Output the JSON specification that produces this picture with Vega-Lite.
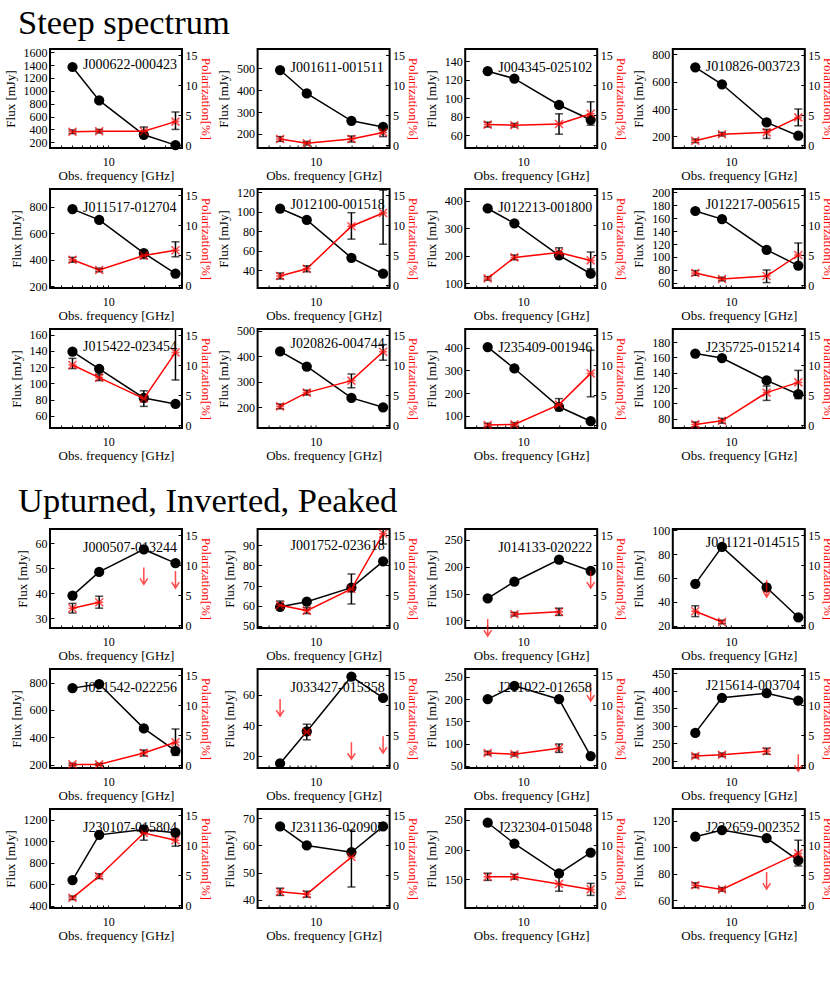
{
"$schema":"https://vega.github.io/schema/vega-lite/v6.json",
"background":"white",
"padding":{"left":3,"top":5,"right":5,"bottom":5},
"datasets":{"d":[
{"s":"J000622-000423","f":5,"flux":1370,"pol":2.2,"lo":1.9,"hi":2.5},
{"s":"J000622-000423","f":8.4,"flux":850,"pol":2.3,"lo":2.0,"hi":2.6},
{"s":"J000622-000423","f":20,"flux":315,"pol":2.3,"lo":1.6,"hi":3.0},
{"s":"J000622-000423","f":37,"flux":155,"pol":3.9,"lo":2.6,"hi":5.5},
{"s":"J001611-001511","f":5,"flux":492,"pol":1.0,"lo":0.6,"hi":1.4},
{"s":"J001611-001511","f":8.4,"flux":385,"pol":0.3,"lo":0.0,"hi":0.6},
{"s":"J001611-001511","f":20,"flux":260,"pol":1.0,"lo":0.5,"hi":1.5},
{"s":"J001611-001511","f":37,"flux":232,"pol":2.1,"lo":1.4,"hi":2.8},
{"s":"J004345-025102","f":5,"flux":129,"pol":3.4,"lo":3.0,"hi":3.8},
{"s":"J004345-025102","f":8.4,"flux":121,"pol":3.3,"lo":3.0,"hi":3.6},
{"s":"J004345-025102","f":20,"flux":92.5,"pol":3.5,"lo":1.8,"hi":5.2},
{"s":"J004345-025102","f":37,"flux":76.5,"pol":5.2,"lo":3.3,"hi":7.2},
{"s":"J010826-003723","f":5,"flux":705,"pol":0.7,"lo":0.4,"hi":1.0},
{"s":"J010826-003723","f":8.4,"flux":581,"pol":1.8,"lo":1.5,"hi":2.1},
{"s":"J010826-003723","f":20,"flux":302,"pol":2.1,"lo":1.1,"hi":2.6},
{"s":"J010826-003723","f":37,"flux":205,"pol":4.6,"lo":3.2,"hi":6.0},
{"s":"J011517-012704","f":5,"flux":782,"pol":4.2,"lo":3.8,"hi":4.6},
{"s":"J011517-012704","f":8.4,"flux":701,"pol":2.5,"lo":2.2,"hi":2.8},
{"s":"J011517-012704","f":20,"flux":451,"pol":4.9,"lo":4.4,"hi":5.4},
{"s":"J011517-012704","f":37,"flux":296,"pol":5.8,"lo":4.7,"hi":7.2},
{"s":"J012100-001518","f":5,"flux":103.4,"pol":1.5,"lo":1.0,"hi":2.0},
{"s":"J012100-001518","f":8.4,"flux":91.7,"pol":2.7,"lo":2.2,"hi":3.2},
{"s":"J012100-001518","f":20,"flux":52.9,"pol":9.8,"lo":7.65,"hi":12.05},
{"s":"J012100-001518","f":37,"flux":36.6,"pol":12.0,"lo":6.8,"hi":15.8},
{"s":"J012213-001800","f":5,"flux":372,"pol":1.1,"lo":0.8,"hi":1.4},
{"s":"J012213-001800","f":8.4,"flux":318,"pol":4.6,"lo":4.2,"hi":5.0},
{"s":"J012213-001800","f":20,"flux":201,"pol":5.4,"lo":4.4,"hi":6.2},
{"s":"J012213-001800","f":37,"flux":134,"pol":4.1,"lo":2.7,"hi":5.5},
{"s":"J012217-005615","f":5,"flux":171,"pol":2.0,"lo":1.6,"hi":2.4},
{"s":"J012217-005615","f":8.4,"flux":158.5,"pol":1.0,"lo":0.7,"hi":1.3},
{"s":"J012217-005615","f":20,"flux":111,"pol":1.5,"lo":0.4,"hi":2.5},
{"s":"J012217-005615","f":37,"flux":86.7,"pol":5.0,"lo":2.8,"hi":7.0},
{"s":"J015422-023454","f":5,"flux":139,"pol":10.0,"lo":9.4,"hi":11.1},
{"s":"J015422-023454","f":8.4,"flux":118,"pol":7.9,"lo":7.4,"hi":8.4},
{"s":"J015422-023454","f":20,"flux":82,"pol":4.4,"lo":3.1,"hi":5.7},
{"s":"J015422-023454","f":37,"flux":74.7,"pol":12.1,"lo":7.5,"hi":16.0},
{"s":"J020826-004744","f":5,"flux":419,"pol":3.1,"lo":2.7,"hi":3.5},
{"s":"J020826-004744","f":8.4,"flux":360,"pol":5.4,"lo":5.0,"hi":5.8},
{"s":"J020826-004744","f":20,"flux":237,"pol":7.4,"lo":6.2,"hi":8.5},
{"s":"J020826-004744","f":37,"flux":200,"pol":12.2,"lo":10.8,"hi":13.4},
{"s":"J235409-001946","f":5,"flux":404,"pol":0.0,"lo":-0.3,"hi":0.3},
{"s":"J235409-001946","f":8.4,"flux":309,"pol":0.1,"lo":-0.2,"hi":0.4},
{"s":"J235409-001946","f":20,"flux":139,"pol":3.4,"lo":2.4,"hi":4.4},
{"s":"J235409-001946","f":37,"flux":75,"pol":8.6,"lo":4.7,"hi":12.45},
{"s":"J235725-015214","f":5,"flux":165,"pol":0.1,"lo":-0.3,"hi":0.5},
{"s":"J235725-015214","f":8.4,"flux":159.2,"pol":0.7,"lo":0.3,"hi":1.1},
{"s":"J235725-015214","f":20,"flux":130,"pol":5.4,"lo":4.1,"hi":6.5},
{"s":"J235725-015214","f":37,"flux":112,"pol":7.1,"lo":4.4,"hi":9.1},
{"s":"J000507-013244","f":5,"flux":39,"pol":2.8,"lo":2.0,"hi":3.6},
{"s":"J000507-013244","f":8.4,"flux":48.5,"pol":3.8,"lo":2.8,"hi":4.8},
{"s":"J000507-013244","f":20,"flux":57.5,"ul":9.6},
{"s":"J000507-013244","f":37,"flux":52,"ul":9.0},
{"s":"J001752-023618","f":5,"flux":59.5,"pol":3.3,"lo":2.6,"hi":4.0},
{"s":"J001752-023618","f":8.4,"flux":62,"pol":2.4,"lo":1.9,"hi":2.9},
{"s":"J001752-023618","f":20,"flux":69,"pol":6.0,"lo":3.5,"hi":8.5},
{"s":"J001752-023618","f":37,"flux":82,"pol":15.2,"lo":13.5,"hi":16.0},
{"s":"J014133-020222","f":5,"flux":141,"ul":1.0},
{"s":"J014133-020222","f":8.4,"flux":172,"pol":1.8,"lo":1.5,"hi":2.1},
{"s":"J014133-020222","f":20,"flux":213,"pol":2.2,"lo":1.6,"hi":2.8},
{"s":"J014133-020222","f":37,"flux":192,"ul":9.0},
{"s":"J021121-014515","f":5,"flux":55,"pol":2.3,"lo":1.4,"hi":3.2},
{"s":"J021121-014515","f":8.4,"flux":86,"pol":0.5,"lo":0.2,"hi":0.8},
{"s":"J021121-014515","f":20,"flux":52,"ul":7.5},
{"s":"J021121-014515","f":37,"flux":27},
{"s":"J021542-022256","f":5,"flux":760,"pol":0.1,"lo":-0.1,"hi":0.3},
{"s":"J021542-022256","f":8.4,"flux":790,"pol":0.1,"lo":-0.1,"hi":0.3},
{"s":"J021542-022256","f":20,"flux":465,"pol":2.0,"lo":1.5,"hi":2.5},
{"s":"J021542-022256","f":37,"flux":300,"pol":3.8,"lo":1.6,"hi":6.0},
{"s":"J033427-015358","f":5,"flux":15,"ul":11.0},
{"s":"J033427-015358","f":8.4,"flux":36,"pol":5.5,"lo":4.2,"hi":6.8},
{"s":"J033427-015358","f":20,"flux":72,"ul":3.8},
{"s":"J033427-015358","f":37,"flux":58,"ul":4.8},
{"s":"J211022-012658","f":5,"flux":200,"pol":2.0,"lo":1.7,"hi":2.3},
{"s":"J211022-012658","f":8.4,"flux":230,"pol":1.8,"lo":1.5,"hi":2.1},
{"s":"J211022-012658","f":20,"flux":200,"pol":2.8,"lo":2.1,"hi":3.5},
{"s":"J211022-012658","f":37,"flux":72,"ul":13.5},
{"s":"J215614-003704","f":5,"flux":280,"pol":1.5,"lo":1.2,"hi":1.8},
{"s":"J215614-003704","f":8.4,"flux":380,"pol":1.7,"lo":1.4,"hi":2.0},
{"s":"J215614-003704","f":20,"flux":393,"pol":2.3,"lo":1.8,"hi":2.8},
{"s":"J215614-003704","f":37,"flux":372,"ul":1.8},
{"s":"J230107-015804","f":5,"flux":640,"pol":1.2,"lo":0.9,"hi":1.5},
{"s":"J230107-015804","f":8.4,"flux":1060,"pol":4.8,"lo":4.4,"hi":5.2},
{"s":"J230107-015804","f":20,"flux":1110,"pol":12.0,"lo":10.8,"hi":13.2},
{"s":"J230107-015804","f":37,"flux":1080,"pol":10.8,"lo":9.8,"hi":11.8},
{"s":"J231136-020907","f":5,"flux":67,"pol":2.2,"lo":1.6,"hi":2.8},
{"s":"J231136-020907","f":8.4,"flux":60,"pol":1.8,"lo":1.3,"hi":2.3},
{"s":"J231136-020907","f":20,"flux":57.5,"pol":8.0,"lo":3.0,"hi":12.5},
{"s":"J231136-020907","f":37,"flux":67},
{"s":"J232304-015048","f":5,"flux":245,"pol":4.7,"lo":4.1,"hi":5.3},
{"s":"J232304-015048","f":8.4,"flux":210,"pol":4.7,"lo":4.3,"hi":5.1},
{"s":"J232304-015048","f":20,"flux":160,"pol":3.5,"lo":2.3,"hi":4.7},
{"s":"J232304-015048","f":37,"flux":195,"pol":2.6,"lo":1.6,"hi":3.6},
{"s":"J232659-002352","f":5,"flux":108,"pol":3.3,"lo":2.9,"hi":3.7},
{"s":"J232659-002352","f":8.4,"flux":113,"pol":2.6,"lo":2.3,"hi":2.9},
{"s":"J232659-002352","f":20,"flux":107,"ul":5.5},
{"s":"J232659-002352","f":37,"flux":90,"pol":8.6,"lo":6.5,"hi":10.8}
]},
"data":{"name":"d"},
"spacing":20,
"vconcat":[
{"title":{"text":"Steep spectrum","fontSize":34.5,"frame":"bounds","anchor":"start","dx":15,"offset":-23,"baseline":"alphabetic"},
"columns":4,"spacing":{"row":41,"column":75.6},"bounds":"flush",
"concat":[
{"title":"J000622-000423","width":132,"height":99,"transform":[{"filter":"datum.s=='J000622-000423'"}],
"encoding":{"x":{"field":"f","type":"quantitative","scale":{"type":"log","domain":[3.23,42],"nice":false},"axis":{"values":[4,5,6,7,8,9,10,20,30,40],"labelExpr":"datum.value==10?'10':''","title":"Obs. frequency [GHz]"}}},
"layer":[
{"encoding":{"y":{"field":"flux","type":"quantitative","scale":{"domain":[110,1650],"nice":false,"zero":false},"axis":{"values":[200,400,600,800,1000,1200,1400,1600],"title":"Flux [mJy]","orient":"left"}}},"layer":[{"mark":{"type":"line","color":"black","strokeWidth":1.5}},{"mark":{"type":"circle","color":"black","size":105,"opacity":1}}]},
{"encoding":{"y":{"field":"pol","type":"quantitative","scale":{"domain":[-0.5,16],"nice":false,"zero":false},"axis":{"values":[0,5,10,15],"title":"Polarization[%]","orient":"right"}}},"layer":[
{"transform":[{"filter":"isValid(datum.pol)"}],"mark":{"type":"line","color":"red","strokeWidth":1.5}},
{"transform":[{"filter":"isValid(datum.lo)"}],"mark":{"type":"errorbar","ticks":{"size":8},"color":"black","thickness":1.5},"encoding":{"y":{"field":"lo","type":"quantitative","title":"Polarization[%]","scale":{"domain":[-0.5,16],"nice":false,"zero":false}},"y2":{"field":"hi"}}},
{"transform":[{"filter":"isValid(datum.pol)"}],"mark":{"type":"point","shape":"M-1,-1L1,1M-1,1L1,-1M-1,0L1,0","color":"red","size":64,"strokeWidth":1.5}},
{"transform":[{"filter":"isValid(datum.ul)"}],"mark":{"type":"point","shape":"M0,0L0,2M-0.45,1.3L0,2L0.45,1.3","color":"red","size":290,"strokeWidth":1.5},"encoding":{"y":{"field":"ul","type":"quantitative","title":"Polarization[%]","scale":{"domain":[-0.5,16],"nice":false,"zero":false}}}}]}],
"resolve":{"scale":{"y":"independent"}}},
{"title":"J001611-001511","width":132,"height":99,"transform":[{"filter":"datum.s=='J001611-001511'"}],
"encoding":{"x":{"field":"f","type":"quantitative","scale":{"type":"log","domain":[3.23,42],"nice":false},"axis":{"values":[4,5,6,7,8,9,10,20,30,40],"labelExpr":"datum.value==10?'10':''","title":"Obs. frequency [GHz]"}}},
"layer":[
{"encoding":{"y":{"field":"flux","type":"quantitative","scale":{"domain":[136,588],"nice":false,"zero":false},"axis":{"values":[200,300,400,500],"title":"Flux [mJy]","orient":"left"}}},"layer":[{"mark":{"type":"line","color":"black","strokeWidth":1.5}},{"mark":{"type":"circle","color":"black","size":105,"opacity":1}}]},
{"encoding":{"y":{"field":"pol","type":"quantitative","scale":{"domain":[-0.5,16],"nice":false,"zero":false},"axis":{"values":[0,5,10,15],"title":"Polarization[%]","orient":"right"}}},"layer":[
{"transform":[{"filter":"isValid(datum.pol)"}],"mark":{"type":"line","color":"red","strokeWidth":1.5}},
{"transform":[{"filter":"isValid(datum.lo)"}],"mark":{"type":"errorbar","ticks":{"size":8},"color":"black","thickness":1.5},"encoding":{"y":{"field":"lo","type":"quantitative","title":"Polarization[%]","scale":{"domain":[-0.5,16],"nice":false,"zero":false}},"y2":{"field":"hi"}}},
{"transform":[{"filter":"isValid(datum.pol)"}],"mark":{"type":"point","shape":"M-1,-1L1,1M-1,1L1,-1M-1,0L1,0","color":"red","size":64,"strokeWidth":1.5}},
{"transform":[{"filter":"isValid(datum.ul)"}],"mark":{"type":"point","shape":"M0,0L0,2M-0.45,1.3L0,2L0.45,1.3","color":"red","size":290,"strokeWidth":1.5},"encoding":{"y":{"field":"ul","type":"quantitative","title":"Polarization[%]","scale":{"domain":[-0.5,16],"nice":false,"zero":false}}}}]}],
"resolve":{"scale":{"y":"independent"}}},
{"title":"J004345-025102","width":132,"height":99,"transform":[{"filter":"datum.s=='J004345-025102'"}],
"encoding":{"x":{"field":"f","type":"quantitative","scale":{"type":"log","domain":[3.23,42],"nice":false},"axis":{"values":[4,5,6,7,8,9,10,20,30,40],"labelExpr":"datum.value==10?'10':''","title":"Obs. frequency [GHz]"}}},
"layer":[
{"encoding":{"y":{"field":"flux","type":"quantitative","scale":{"domain":[46,153],"nice":false,"zero":false},"axis":{"values":[60,80,100,120,140],"title":"Flux [mJy]","orient":"left"}}},"layer":[{"mark":{"type":"line","color":"black","strokeWidth":1.5}},{"mark":{"type":"circle","color":"black","size":105,"opacity":1}}]},
{"encoding":{"y":{"field":"pol","type":"quantitative","scale":{"domain":[-0.5,16],"nice":false,"zero":false},"axis":{"values":[0,5,10,15],"title":"Polarization[%]","orient":"right"}}},"layer":[
{"transform":[{"filter":"isValid(datum.pol)"}],"mark":{"type":"line","color":"red","strokeWidth":1.5}},
{"transform":[{"filter":"isValid(datum.lo)"}],"mark":{"type":"errorbar","ticks":{"size":8},"color":"black","thickness":1.5},"encoding":{"y":{"field":"lo","type":"quantitative","title":"Polarization[%]","scale":{"domain":[-0.5,16],"nice":false,"zero":false}},"y2":{"field":"hi"}}},
{"transform":[{"filter":"isValid(datum.pol)"}],"mark":{"type":"point","shape":"M-1,-1L1,1M-1,1L1,-1M-1,0L1,0","color":"red","size":64,"strokeWidth":1.5}},
{"transform":[{"filter":"isValid(datum.ul)"}],"mark":{"type":"point","shape":"M0,0L0,2M-0.45,1.3L0,2L0.45,1.3","color":"red","size":290,"strokeWidth":1.5},"encoding":{"y":{"field":"ul","type":"quantitative","title":"Polarization[%]","scale":{"domain":[-0.5,16],"nice":false,"zero":false}}}}]}],
"resolve":{"scale":{"y":"independent"}}},
{"title":"J010826-003723","width":132,"height":99,"transform":[{"filter":"datum.s=='J010826-003723'"}],
"encoding":{"x":{"field":"f","type":"quantitative","scale":{"type":"log","domain":[3.23,42],"nice":false},"axis":{"values":[4,5,6,7,8,9,10,20,30,40],"labelExpr":"datum.value==10?'10':''","title":"Obs. frequency [GHz]"}}},
"layer":[
{"encoding":{"y":{"field":"flux","type":"quantitative","scale":{"domain":[115,839],"nice":false,"zero":false},"axis":{"values":[200,400,600,800],"title":"Flux [mJy]","orient":"left"}}},"layer":[{"mark":{"type":"line","color":"black","strokeWidth":1.5}},{"mark":{"type":"circle","color":"black","size":105,"opacity":1}}]},
{"encoding":{"y":{"field":"pol","type":"quantitative","scale":{"domain":[-0.5,16],"nice":false,"zero":false},"axis":{"values":[0,5,10,15],"title":"Polarization[%]","orient":"right"}}},"layer":[
{"transform":[{"filter":"isValid(datum.pol)"}],"mark":{"type":"line","color":"red","strokeWidth":1.5}},
{"transform":[{"filter":"isValid(datum.lo)"}],"mark":{"type":"errorbar","ticks":{"size":8},"color":"black","thickness":1.5},"encoding":{"y":{"field":"lo","type":"quantitative","title":"Polarization[%]","scale":{"domain":[-0.5,16],"nice":false,"zero":false}},"y2":{"field":"hi"}}},
{"transform":[{"filter":"isValid(datum.pol)"}],"mark":{"type":"point","shape":"M-1,-1L1,1M-1,1L1,-1M-1,0L1,0","color":"red","size":64,"strokeWidth":1.5}},
{"transform":[{"filter":"isValid(datum.ul)"}],"mark":{"type":"point","shape":"M0,0L0,2M-0.45,1.3L0,2L0.45,1.3","color":"red","size":290,"strokeWidth":1.5},"encoding":{"y":{"field":"ul","type":"quantitative","title":"Polarization[%]","scale":{"domain":[-0.5,16],"nice":false,"zero":false}}}}]}],
"resolve":{"scale":{"y":"independent"}}},
{"title":"J011517-012704","width":132,"height":99,"transform":[{"filter":"datum.s=='J011517-012704'"}],
"encoding":{"x":{"field":"f","type":"quantitative","scale":{"type":"log","domain":[3.23,42],"nice":false},"axis":{"values":[4,5,6,7,8,9,10,20,30,40],"labelExpr":"datum.value==10?'10':''","title":"Obs. frequency [GHz]"}}},
"layer":[
{"encoding":{"y":{"field":"flux","type":"quantitative","scale":{"domain":[187,934],"nice":false,"zero":false},"axis":{"values":[200,400,600,800],"title":"Flux [mJy]","orient":"left"}}},"layer":[{"mark":{"type":"line","color":"black","strokeWidth":1.5}},{"mark":{"type":"circle","color":"black","size":105,"opacity":1}}]},
{"encoding":{"y":{"field":"pol","type":"quantitative","scale":{"domain":[-0.5,16],"nice":false,"zero":false},"axis":{"values":[0,5,10,15],"title":"Polarization[%]","orient":"right"}}},"layer":[
{"transform":[{"filter":"isValid(datum.pol)"}],"mark":{"type":"line","color":"red","strokeWidth":1.5}},
{"transform":[{"filter":"isValid(datum.lo)"}],"mark":{"type":"errorbar","ticks":{"size":8},"color":"black","thickness":1.5},"encoding":{"y":{"field":"lo","type":"quantitative","title":"Polarization[%]","scale":{"domain":[-0.5,16],"nice":false,"zero":false}},"y2":{"field":"hi"}}},
{"transform":[{"filter":"isValid(datum.pol)"}],"mark":{"type":"point","shape":"M-1,-1L1,1M-1,1L1,-1M-1,0L1,0","color":"red","size":64,"strokeWidth":1.5}},
{"transform":[{"filter":"isValid(datum.ul)"}],"mark":{"type":"point","shape":"M0,0L0,2M-0.45,1.3L0,2L0.45,1.3","color":"red","size":290,"strokeWidth":1.5},"encoding":{"y":{"field":"ul","type":"quantitative","title":"Polarization[%]","scale":{"domain":[-0.5,16],"nice":false,"zero":false}}}}]}],
"resolve":{"scale":{"y":"independent"}}},
{"title":"J012100-001518","width":132,"height":99,"transform":[{"filter":"datum.s=='J012100-001518'"}],
"encoding":{"x":{"field":"f","type":"quantitative","scale":{"type":"log","domain":[3.23,42],"nice":false},"axis":{"values":[4,5,6,7,8,9,10,20,30,40],"labelExpr":"datum.value==10?'10':''","title":"Obs. frequency [GHz]"}}},
"layer":[
{"encoding":{"y":{"field":"flux","type":"quantitative","scale":{"domain":[22,123.4],"nice":false,"zero":false},"axis":{"values":[40,60,80,100,120],"title":"Flux [mJy]","orient":"left"}}},"layer":[{"mark":{"type":"line","color":"black","strokeWidth":1.5}},{"mark":{"type":"circle","color":"black","size":105,"opacity":1}}]},
{"encoding":{"y":{"field":"pol","type":"quantitative","scale":{"domain":[-0.5,16],"nice":false,"zero":false},"axis":{"values":[0,5,10,15],"title":"Polarization[%]","orient":"right"}}},"layer":[
{"transform":[{"filter":"isValid(datum.pol)"}],"mark":{"type":"line","color":"red","strokeWidth":1.5}},
{"transform":[{"filter":"isValid(datum.lo)"}],"mark":{"type":"errorbar","ticks":{"size":8},"color":"black","thickness":1.5},"encoding":{"y":{"field":"lo","type":"quantitative","title":"Polarization[%]","scale":{"domain":[-0.5,16],"nice":false,"zero":false}},"y2":{"field":"hi"}}},
{"transform":[{"filter":"isValid(datum.pol)"}],"mark":{"type":"point","shape":"M-1,-1L1,1M-1,1L1,-1M-1,0L1,0","color":"red","size":64,"strokeWidth":1.5}},
{"transform":[{"filter":"isValid(datum.ul)"}],"mark":{"type":"point","shape":"M0,0L0,2M-0.45,1.3L0,2L0.45,1.3","color":"red","size":290,"strokeWidth":1.5},"encoding":{"y":{"field":"ul","type":"quantitative","title":"Polarization[%]","scale":{"domain":[-0.5,16],"nice":false,"zero":false}}}}]}],
"resolve":{"scale":{"y":"independent"}}},
{"title":"J012213-001800","width":132,"height":99,"transform":[{"filter":"datum.s=='J012213-001800'"}],
"encoding":{"x":{"field":"f","type":"quantitative","scale":{"type":"log","domain":[3.23,42],"nice":false},"axis":{"values":[4,5,6,7,8,9,10,20,30,40],"labelExpr":"datum.value==10?'10':''","title":"Obs. frequency [GHz]"}}},
"layer":[
{"encoding":{"y":{"field":"flux","type":"quantitative","scale":{"domain":[82,443],"nice":false,"zero":false},"axis":{"values":[100,200,300,400],"title":"Flux [mJy]","orient":"left"}}},"layer":[{"mark":{"type":"line","color":"black","strokeWidth":1.5}},{"mark":{"type":"circle","color":"black","size":105,"opacity":1}}]},
{"encoding":{"y":{"field":"pol","type":"quantitative","scale":{"domain":[-0.5,16],"nice":false,"zero":false},"axis":{"values":[0,5,10,15],"title":"Polarization[%]","orient":"right"}}},"layer":[
{"transform":[{"filter":"isValid(datum.pol)"}],"mark":{"type":"line","color":"red","strokeWidth":1.5}},
{"transform":[{"filter":"isValid(datum.lo)"}],"mark":{"type":"errorbar","ticks":{"size":8},"color":"black","thickness":1.5},"encoding":{"y":{"field":"lo","type":"quantitative","title":"Polarization[%]","scale":{"domain":[-0.5,16],"nice":false,"zero":false}},"y2":{"field":"hi"}}},
{"transform":[{"filter":"isValid(datum.pol)"}],"mark":{"type":"point","shape":"M-1,-1L1,1M-1,1L1,-1M-1,0L1,0","color":"red","size":64,"strokeWidth":1.5}},
{"transform":[{"filter":"isValid(datum.ul)"}],"mark":{"type":"point","shape":"M0,0L0,2M-0.45,1.3L0,2L0.45,1.3","color":"red","size":290,"strokeWidth":1.5},"encoding":{"y":{"field":"ul","type":"quantitative","title":"Polarization[%]","scale":{"domain":[-0.5,16],"nice":false,"zero":false}}}}]}],
"resolve":{"scale":{"y":"independent"}}},
{"title":"J012217-005615","width":132,"height":99,"transform":[{"filter":"datum.s=='J012217-005615'"}],
"encoding":{"x":{"field":"f","type":"quantitative","scale":{"type":"log","domain":[3.23,42],"nice":false},"axis":{"values":[4,5,6,7,8,9,10,20,30,40],"labelExpr":"datum.value==10?'10':''","title":"Obs. frequency [GHz]"}}},
"layer":[
{"encoding":{"y":{"field":"flux","type":"quantitative","scale":{"domain":[52,205],"nice":false,"zero":false},"axis":{"values":[60,80,100,120,140,160,180,200],"title":"Flux [mJy]","orient":"left"}}},"layer":[{"mark":{"type":"line","color":"black","strokeWidth":1.5}},{"mark":{"type":"circle","color":"black","size":105,"opacity":1}}]},
{"encoding":{"y":{"field":"pol","type":"quantitative","scale":{"domain":[-0.5,16],"nice":false,"zero":false},"axis":{"values":[0,5,10,15],"title":"Polarization[%]","orient":"right"}}},"layer":[
{"transform":[{"filter":"isValid(datum.pol)"}],"mark":{"type":"line","color":"red","strokeWidth":1.5}},
{"transform":[{"filter":"isValid(datum.lo)"}],"mark":{"type":"errorbar","ticks":{"size":8},"color":"black","thickness":1.5},"encoding":{"y":{"field":"lo","type":"quantitative","title":"Polarization[%]","scale":{"domain":[-0.5,16],"nice":false,"zero":false}},"y2":{"field":"hi"}}},
{"transform":[{"filter":"isValid(datum.pol)"}],"mark":{"type":"point","shape":"M-1,-1L1,1M-1,1L1,-1M-1,0L1,0","color":"red","size":64,"strokeWidth":1.5}},
{"transform":[{"filter":"isValid(datum.ul)"}],"mark":{"type":"point","shape":"M0,0L0,2M-0.45,1.3L0,2L0.45,1.3","color":"red","size":290,"strokeWidth":1.5},"encoding":{"y":{"field":"ul","type":"quantitative","title":"Polarization[%]","scale":{"domain":[-0.5,16],"nice":false,"zero":false}}}}]}],
"resolve":{"scale":{"y":"independent"}}},
{"title":"J015422-023454","width":132,"height":99,"transform":[{"filter":"datum.s=='J015422-023454'"}],
"encoding":{"x":{"field":"f","type":"quantitative","scale":{"type":"log","domain":[3.23,42],"nice":false},"axis":{"values":[4,5,6,7,8,9,10,20,30,40],"labelExpr":"datum.value==10?'10':''","title":"Obs. frequency [GHz]"}}},
"layer":[
{"encoding":{"y":{"field":"flux","type":"quantitative","scale":{"domain":[45,167],"nice":false,"zero":false},"axis":{"values":[60,80,100,120,140,160],"title":"Flux [mJy]","orient":"left"}}},"layer":[{"mark":{"type":"line","color":"black","strokeWidth":1.5}},{"mark":{"type":"circle","color":"black","size":105,"opacity":1}}]},
{"encoding":{"y":{"field":"pol","type":"quantitative","scale":{"domain":[-0.5,16],"nice":false,"zero":false},"axis":{"values":[0,5,10,15],"title":"Polarization[%]","orient":"right"}}},"layer":[
{"transform":[{"filter":"isValid(datum.pol)"}],"mark":{"type":"line","color":"red","strokeWidth":1.5}},
{"transform":[{"filter":"isValid(datum.lo)"}],"mark":{"type":"errorbar","ticks":{"size":8},"color":"black","thickness":1.5},"encoding":{"y":{"field":"lo","type":"quantitative","title":"Polarization[%]","scale":{"domain":[-0.5,16],"nice":false,"zero":false}},"y2":{"field":"hi"}}},
{"transform":[{"filter":"isValid(datum.pol)"}],"mark":{"type":"point","shape":"M-1,-1L1,1M-1,1L1,-1M-1,0L1,0","color":"red","size":64,"strokeWidth":1.5}},
{"transform":[{"filter":"isValid(datum.ul)"}],"mark":{"type":"point","shape":"M0,0L0,2M-0.45,1.3L0,2L0.45,1.3","color":"red","size":290,"strokeWidth":1.5},"encoding":{"y":{"field":"ul","type":"quantitative","title":"Polarization[%]","scale":{"domain":[-0.5,16],"nice":false,"zero":false}}}}]}],
"resolve":{"scale":{"y":"independent"}}},
{"title":"J020826-004744","width":132,"height":99,"transform":[{"filter":"datum.s=='J020826-004744'"}],
"encoding":{"x":{"field":"f","type":"quantitative","scale":{"type":"log","domain":[3.23,42],"nice":false},"axis":{"values":[4,5,6,7,8,9,10,20,30,40],"labelExpr":"datum.value==10?'10':''","title":"Obs. frequency [GHz]"}}},
"layer":[
{"encoding":{"y":{"field":"flux","type":"quantitative","scale":{"domain":[119,507],"nice":false,"zero":false},"axis":{"values":[200,300,400,500],"title":"Flux [mJy]","orient":"left"}}},"layer":[{"mark":{"type":"line","color":"black","strokeWidth":1.5}},{"mark":{"type":"circle","color":"black","size":105,"opacity":1}}]},
{"encoding":{"y":{"field":"pol","type":"quantitative","scale":{"domain":[-0.5,16],"nice":false,"zero":false},"axis":{"values":[0,5,10,15],"title":"Polarization[%]","orient":"right"}}},"layer":[
{"transform":[{"filter":"isValid(datum.pol)"}],"mark":{"type":"line","color":"red","strokeWidth":1.5}},
{"transform":[{"filter":"isValid(datum.lo)"}],"mark":{"type":"errorbar","ticks":{"size":8},"color":"black","thickness":1.5},"encoding":{"y":{"field":"lo","type":"quantitative","title":"Polarization[%]","scale":{"domain":[-0.5,16],"nice":false,"zero":false}},"y2":{"field":"hi"}}},
{"transform":[{"filter":"isValid(datum.pol)"}],"mark":{"type":"point","shape":"M-1,-1L1,1M-1,1L1,-1M-1,0L1,0","color":"red","size":64,"strokeWidth":1.5}},
{"transform":[{"filter":"isValid(datum.ul)"}],"mark":{"type":"point","shape":"M0,0L0,2M-0.45,1.3L0,2L0.45,1.3","color":"red","size":290,"strokeWidth":1.5},"encoding":{"y":{"field":"ul","type":"quantitative","title":"Polarization[%]","scale":{"domain":[-0.5,16],"nice":false,"zero":false}}}}]}],
"resolve":{"scale":{"y":"independent"}}},
{"title":"J235409-001946","width":132,"height":99,"transform":[{"filter":"datum.s=='J235409-001946'"}],
"encoding":{"x":{"field":"f","type":"quantitative","scale":{"type":"log","domain":[3.23,42],"nice":false},"axis":{"values":[4,5,6,7,8,9,10,20,30,40],"labelExpr":"datum.value==10?'10':''","title":"Obs. frequency [GHz]"}}},
"layer":[
{"encoding":{"y":{"field":"flux","type":"quantitative","scale":{"domain":[45,484],"nice":false,"zero":false},"axis":{"values":[100,200,300,400],"title":"Flux [mJy]","orient":"left"}}},"layer":[{"mark":{"type":"line","color":"black","strokeWidth":1.5}},{"mark":{"type":"circle","color":"black","size":105,"opacity":1}}]},
{"encoding":{"y":{"field":"pol","type":"quantitative","scale":{"domain":[-0.5,16],"nice":false,"zero":false},"axis":{"values":[0,5,10,15],"title":"Polarization[%]","orient":"right"}}},"layer":[
{"transform":[{"filter":"isValid(datum.pol)"}],"mark":{"type":"line","color":"red","strokeWidth":1.5}},
{"transform":[{"filter":"isValid(datum.lo)"}],"mark":{"type":"errorbar","ticks":{"size":8},"color":"black","thickness":1.5},"encoding":{"y":{"field":"lo","type":"quantitative","title":"Polarization[%]","scale":{"domain":[-0.5,16],"nice":false,"zero":false}},"y2":{"field":"hi"}}},
{"transform":[{"filter":"isValid(datum.pol)"}],"mark":{"type":"point","shape":"M-1,-1L1,1M-1,1L1,-1M-1,0L1,0","color":"red","size":64,"strokeWidth":1.5}},
{"transform":[{"filter":"isValid(datum.ul)"}],"mark":{"type":"point","shape":"M0,0L0,2M-0.45,1.3L0,2L0.45,1.3","color":"red","size":290,"strokeWidth":1.5},"encoding":{"y":{"field":"ul","type":"quantitative","title":"Polarization[%]","scale":{"domain":[-0.5,16],"nice":false,"zero":false}}}}]}],
"resolve":{"scale":{"y":"independent"}}},
{"title":"J235725-015214","width":132,"height":99,"transform":[{"filter":"datum.s=='J235725-015214'"}],
"encoding":{"x":{"field":"f","type":"quantitative","scale":{"type":"log","domain":[3.23,42],"nice":false},"axis":{"values":[4,5,6,7,8,9,10,20,30,40],"labelExpr":"datum.value==10?'10':''","title":"Obs. frequency [GHz]"}}},
"layer":[
{"encoding":{"y":{"field":"flux","type":"quantitative","scale":{"domain":[68,197],"nice":false,"zero":false},"axis":{"values":[80,100,120,140,160,180],"title":"Flux [mJy]","orient":"left"}}},"layer":[{"mark":{"type":"line","color":"black","strokeWidth":1.5}},{"mark":{"type":"circle","color":"black","size":105,"opacity":1}}]},
{"encoding":{"y":{"field":"pol","type":"quantitative","scale":{"domain":[-0.5,16],"nice":false,"zero":false},"axis":{"values":[0,5,10,15],"title":"Polarization[%]","orient":"right"}}},"layer":[
{"transform":[{"filter":"isValid(datum.pol)"}],"mark":{"type":"line","color":"red","strokeWidth":1.5}},
{"transform":[{"filter":"isValid(datum.lo)"}],"mark":{"type":"errorbar","ticks":{"size":8},"color":"black","thickness":1.5},"encoding":{"y":{"field":"lo","type":"quantitative","title":"Polarization[%]","scale":{"domain":[-0.5,16],"nice":false,"zero":false}},"y2":{"field":"hi"}}},
{"transform":[{"filter":"isValid(datum.pol)"}],"mark":{"type":"point","shape":"M-1,-1L1,1M-1,1L1,-1M-1,0L1,0","color":"red","size":64,"strokeWidth":1.5}},
{"transform":[{"filter":"isValid(datum.ul)"}],"mark":{"type":"point","shape":"M0,0L0,2M-0.45,1.3L0,2L0.45,1.3","color":"red","size":290,"strokeWidth":1.5},"encoding":{"y":{"field":"ul","type":"quantitative","title":"Polarization[%]","scale":{"domain":[-0.5,16],"nice":false,"zero":false}}}}]}],
"resolve":{"scale":{"y":"independent"}}}
]},
{"title":{"text":"Upturned, Inverted, Peaked","fontSize":34.5,"frame":"bounds","anchor":"start","dx":15,"offset":-23,"baseline":"alphabetic"},
"columns":4,"spacing":{"row":41,"column":75.6},"bounds":"flush",
"concat":[
{"title":"J000507-013244","width":132,"height":99,"transform":[{"filter":"datum.s=='J000507-013244'"}],
"encoding":{"x":{"field":"f","type":"quantitative","scale":{"type":"log","domain":[3.23,42],"nice":false},"axis":{"values":[4,5,6,7,8,9,10,20,30,40],"labelExpr":"datum.value==10?'10':''","title":"Obs. frequency [GHz]"}}},
"layer":[
{"encoding":{"y":{"field":"flux","type":"quantitative","scale":{"domain":[26,65.7],"nice":false,"zero":false},"axis":{"values":[30,40,50,60],"title":"Flux [mJy]","orient":"left"}}},"layer":[{"mark":{"type":"line","color":"black","strokeWidth":1.5}},{"mark":{"type":"circle","color":"black","size":105,"opacity":1}}]},
{"encoding":{"y":{"field":"pol","type":"quantitative","scale":{"domain":[-0.5,16],"nice":false,"zero":false},"axis":{"values":[0,5,10,15],"title":"Polarization[%]","orient":"right"}}},"layer":[
{"transform":[{"filter":"isValid(datum.pol)"}],"mark":{"type":"line","color":"red","strokeWidth":1.5}},
{"transform":[{"filter":"isValid(datum.lo)"}],"mark":{"type":"errorbar","ticks":{"size":8},"color":"black","thickness":1.5},"encoding":{"y":{"field":"lo","type":"quantitative","title":"Polarization[%]","scale":{"domain":[-0.5,16],"nice":false,"zero":false}},"y2":{"field":"hi"}}},
{"transform":[{"filter":"isValid(datum.pol)"}],"mark":{"type":"point","shape":"M-1,-1L1,1M-1,1L1,-1M-1,0L1,0","color":"red","size":64,"strokeWidth":1.5}},
{"transform":[{"filter":"isValid(datum.ul)"}],"mark":{"type":"point","shape":"M0,0L0,2M-0.45,1.3L0,2L0.45,1.3","color":"red","size":290,"strokeWidth":1.5},"encoding":{"y":{"field":"ul","type":"quantitative","title":"Polarization[%]","scale":{"domain":[-0.5,16],"nice":false,"zero":false}}}}]}],
"resolve":{"scale":{"y":"independent"}}},
{"title":"J001752-023618","width":132,"height":99,"transform":[{"filter":"datum.s=='J001752-023618'"}],
"encoding":{"x":{"field":"f","type":"quantitative","scale":{"type":"log","domain":[3.23,42],"nice":false},"axis":{"values":[4,5,6,7,8,9,10,20,30,40],"labelExpr":"datum.value==10?'10':''","title":"Obs. frequency [GHz]"}}},
"layer":[
{"encoding":{"y":{"field":"flux","type":"quantitative","scale":{"domain":[49,98],"nice":false,"zero":false},"axis":{"values":[50,60,70,80,90],"title":"Flux [mJy]","orient":"left"}}},"layer":[{"mark":{"type":"line","color":"black","strokeWidth":1.5}},{"mark":{"type":"circle","color":"black","size":105,"opacity":1}}]},
{"encoding":{"y":{"field":"pol","type":"quantitative","scale":{"domain":[-0.5,16],"nice":false,"zero":false},"axis":{"values":[0,5,10,15],"title":"Polarization[%]","orient":"right"}}},"layer":[
{"transform":[{"filter":"isValid(datum.pol)"}],"mark":{"type":"line","color":"red","strokeWidth":1.5}},
{"transform":[{"filter":"isValid(datum.lo)"}],"mark":{"type":"errorbar","ticks":{"size":8},"color":"black","thickness":1.5},"encoding":{"y":{"field":"lo","type":"quantitative","title":"Polarization[%]","scale":{"domain":[-0.5,16],"nice":false,"zero":false}},"y2":{"field":"hi"}}},
{"transform":[{"filter":"isValid(datum.pol)"}],"mark":{"type":"point","shape":"M-1,-1L1,1M-1,1L1,-1M-1,0L1,0","color":"red","size":64,"strokeWidth":1.5}},
{"transform":[{"filter":"isValid(datum.ul)"}],"mark":{"type":"point","shape":"M0,0L0,2M-0.45,1.3L0,2L0.45,1.3","color":"red","size":290,"strokeWidth":1.5},"encoding":{"y":{"field":"ul","type":"quantitative","title":"Polarization[%]","scale":{"domain":[-0.5,16],"nice":false,"zero":false}}}}]}],
"resolve":{"scale":{"y":"independent"}}},
{"title":"J014133-020222","width":132,"height":99,"transform":[{"filter":"datum.s=='J014133-020222'"}],
"encoding":{"x":{"field":"f","type":"quantitative","scale":{"type":"log","domain":[3.23,42],"nice":false},"axis":{"values":[4,5,6,7,8,9,10,20,30,40],"labelExpr":"datum.value==10?'10':''","title":"Obs. frequency [GHz]"}}},
"layer":[
{"encoding":{"y":{"field":"flux","type":"quantitative","scale":{"domain":[86,270],"nice":false,"zero":false},"axis":{"values":[100,150,200,250],"title":"Flux [mJy]","orient":"left"}}},"layer":[{"mark":{"type":"line","color":"black","strokeWidth":1.5}},{"mark":{"type":"circle","color":"black","size":105,"opacity":1}}]},
{"encoding":{"y":{"field":"pol","type":"quantitative","scale":{"domain":[-0.5,16],"nice":false,"zero":false},"axis":{"values":[0,5,10,15],"title":"Polarization[%]","orient":"right"}}},"layer":[
{"transform":[{"filter":"isValid(datum.pol)"}],"mark":{"type":"line","color":"red","strokeWidth":1.5}},
{"transform":[{"filter":"isValid(datum.lo)"}],"mark":{"type":"errorbar","ticks":{"size":8},"color":"black","thickness":1.5},"encoding":{"y":{"field":"lo","type":"quantitative","title":"Polarization[%]","scale":{"domain":[-0.5,16],"nice":false,"zero":false}},"y2":{"field":"hi"}}},
{"transform":[{"filter":"isValid(datum.pol)"}],"mark":{"type":"point","shape":"M-1,-1L1,1M-1,1L1,-1M-1,0L1,0","color":"red","size":64,"strokeWidth":1.5}},
{"transform":[{"filter":"isValid(datum.ul)"}],"mark":{"type":"point","shape":"M0,0L0,2M-0.45,1.3L0,2L0.45,1.3","color":"red","size":290,"strokeWidth":1.5},"encoding":{"y":{"field":"ul","type":"quantitative","title":"Polarization[%]","scale":{"domain":[-0.5,16],"nice":false,"zero":false}}}}]}],
"resolve":{"scale":{"y":"independent"}}},
{"title":"J021121-014515","width":132,"height":99,"transform":[{"filter":"datum.s=='J021121-014515'"}],
"encoding":{"x":{"field":"f","type":"quantitative","scale":{"type":"log","domain":[3.23,42],"nice":false},"axis":{"values":[4,5,6,7,8,9,10,20,30,40],"labelExpr":"datum.value==10?'10':''","title":"Obs. frequency [GHz]"}}},
"layer":[
{"encoding":{"y":{"field":"flux","type":"quantitative","scale":{"domain":[18,101],"nice":false,"zero":false},"axis":{"values":[20,40,60,80,100],"title":"Flux [mJy]","orient":"left"}}},"layer":[{"mark":{"type":"line","color":"black","strokeWidth":1.5}},{"mark":{"type":"circle","color":"black","size":105,"opacity":1}}]},
{"encoding":{"y":{"field":"pol","type":"quantitative","scale":{"domain":[-0.5,16],"nice":false,"zero":false},"axis":{"values":[0,5,10,15],"title":"Polarization[%]","orient":"right"}}},"layer":[
{"transform":[{"filter":"isValid(datum.pol)"}],"mark":{"type":"line","color":"red","strokeWidth":1.5}},
{"transform":[{"filter":"isValid(datum.lo)"}],"mark":{"type":"errorbar","ticks":{"size":8},"color":"black","thickness":1.5},"encoding":{"y":{"field":"lo","type":"quantitative","title":"Polarization[%]","scale":{"domain":[-0.5,16],"nice":false,"zero":false}},"y2":{"field":"hi"}}},
{"transform":[{"filter":"isValid(datum.pol)"}],"mark":{"type":"point","shape":"M-1,-1L1,1M-1,1L1,-1M-1,0L1,0","color":"red","size":64,"strokeWidth":1.5}},
{"transform":[{"filter":"isValid(datum.ul)"}],"mark":{"type":"point","shape":"M0,0L0,2M-0.45,1.3L0,2L0.45,1.3","color":"red","size":290,"strokeWidth":1.5},"encoding":{"y":{"field":"ul","type":"quantitative","title":"Polarization[%]","scale":{"domain":[-0.5,16],"nice":false,"zero":false}}}}]}],
"resolve":{"scale":{"y":"independent"}}},
{"title":"J021542-022256","width":132,"height":99,"transform":[{"filter":"datum.s=='J021542-022256'"}],
"encoding":{"x":{"field":"f","type":"quantitative","scale":{"type":"log","domain":[3.23,42],"nice":false},"axis":{"values":[4,5,6,7,8,9,10,20,30,40],"labelExpr":"datum.value==10?'10':''","title":"Obs. frequency [GHz]"}}},
"layer":[
{"encoding":{"y":{"field":"flux","type":"quantitative","scale":{"domain":[175,900],"nice":false,"zero":false},"axis":{"values":[200,400,600,800],"title":"Flux [mJy]","orient":"left"}}},"layer":[{"mark":{"type":"line","color":"black","strokeWidth":1.5}},{"mark":{"type":"circle","color":"black","size":105,"opacity":1}}]},
{"encoding":{"y":{"field":"pol","type":"quantitative","scale":{"domain":[-0.5,16],"nice":false,"zero":false},"axis":{"values":[0,5,10,15],"title":"Polarization[%]","orient":"right"}}},"layer":[
{"transform":[{"filter":"isValid(datum.pol)"}],"mark":{"type":"line","color":"red","strokeWidth":1.5}},
{"transform":[{"filter":"isValid(datum.lo)"}],"mark":{"type":"errorbar","ticks":{"size":8},"color":"black","thickness":1.5},"encoding":{"y":{"field":"lo","type":"quantitative","title":"Polarization[%]","scale":{"domain":[-0.5,16],"nice":false,"zero":false}},"y2":{"field":"hi"}}},
{"transform":[{"filter":"isValid(datum.pol)"}],"mark":{"type":"point","shape":"M-1,-1L1,1M-1,1L1,-1M-1,0L1,0","color":"red","size":64,"strokeWidth":1.5}},
{"transform":[{"filter":"isValid(datum.ul)"}],"mark":{"type":"point","shape":"M0,0L0,2M-0.45,1.3L0,2L0.45,1.3","color":"red","size":290,"strokeWidth":1.5},"encoding":{"y":{"field":"ul","type":"quantitative","title":"Polarization[%]","scale":{"domain":[-0.5,16],"nice":false,"zero":false}}}}]}],
"resolve":{"scale":{"y":"independent"}}},
{"title":"J033427-015358","width":132,"height":99,"transform":[{"filter":"datum.s=='J033427-015358'"}],
"encoding":{"x":{"field":"f","type":"quantitative","scale":{"type":"log","domain":[3.23,42],"nice":false},"axis":{"values":[4,5,6,7,8,9,10,20,30,40],"labelExpr":"datum.value==10?'10':''","title":"Obs. frequency [GHz]"}}},
"layer":[
{"encoding":{"y":{"field":"flux","type":"quantitative","scale":{"domain":[12,77],"nice":false,"zero":false},"axis":{"values":[20,40,60],"title":"Flux [mJy]","orient":"left"}}},"layer":[{"mark":{"type":"line","color":"black","strokeWidth":1.5}},{"mark":{"type":"circle","color":"black","size":105,"opacity":1}}]},
{"encoding":{"y":{"field":"pol","type":"quantitative","scale":{"domain":[-0.5,16],"nice":false,"zero":false},"axis":{"values":[0,5,10,15],"title":"Polarization[%]","orient":"right"}}},"layer":[
{"transform":[{"filter":"isValid(datum.pol)"}],"mark":{"type":"line","color":"red","strokeWidth":1.5}},
{"transform":[{"filter":"isValid(datum.lo)"}],"mark":{"type":"errorbar","ticks":{"size":8},"color":"black","thickness":1.5},"encoding":{"y":{"field":"lo","type":"quantitative","title":"Polarization[%]","scale":{"domain":[-0.5,16],"nice":false,"zero":false}},"y2":{"field":"hi"}}},
{"transform":[{"filter":"isValid(datum.pol)"}],"mark":{"type":"point","shape":"M-1,-1L1,1M-1,1L1,-1M-1,0L1,0","color":"red","size":64,"strokeWidth":1.5}},
{"transform":[{"filter":"isValid(datum.ul)"}],"mark":{"type":"point","shape":"M0,0L0,2M-0.45,1.3L0,2L0.45,1.3","color":"red","size":290,"strokeWidth":1.5},"encoding":{"y":{"field":"ul","type":"quantitative","title":"Polarization[%]","scale":{"domain":[-0.5,16],"nice":false,"zero":false}}}}]}],
"resolve":{"scale":{"y":"independent"}}},
{"title":"J211022-012658","width":132,"height":99,"transform":[{"filter":"datum.s=='J211022-012658'"}],
"encoding":{"x":{"field":"f","type":"quantitative","scale":{"type":"log","domain":[3.23,42],"nice":false},"axis":{"values":[4,5,6,7,8,9,10,20,30,40],"labelExpr":"datum.value==10?'10':''","title":"Obs. frequency [GHz]"}}},
"layer":[
{"encoding":{"y":{"field":"flux","type":"quantitative","scale":{"domain":[45,268],"nice":false,"zero":false},"axis":{"values":[50,100,150,200,250],"title":"Flux [mJy]","orient":"left"}}},"layer":[{"mark":{"type":"line","color":"black","strokeWidth":1.5}},{"mark":{"type":"circle","color":"black","size":105,"opacity":1}}]},
{"encoding":{"y":{"field":"pol","type":"quantitative","scale":{"domain":[-0.5,16],"nice":false,"zero":false},"axis":{"values":[0,5,10,15],"title":"Polarization[%]","orient":"right"}}},"layer":[
{"transform":[{"filter":"isValid(datum.pol)"}],"mark":{"type":"line","color":"red","strokeWidth":1.5}},
{"transform":[{"filter":"isValid(datum.lo)"}],"mark":{"type":"errorbar","ticks":{"size":8},"color":"black","thickness":1.5},"encoding":{"y":{"field":"lo","type":"quantitative","title":"Polarization[%]","scale":{"domain":[-0.5,16],"nice":false,"zero":false}},"y2":{"field":"hi"}}},
{"transform":[{"filter":"isValid(datum.pol)"}],"mark":{"type":"point","shape":"M-1,-1L1,1M-1,1L1,-1M-1,0L1,0","color":"red","size":64,"strokeWidth":1.5}},
{"transform":[{"filter":"isValid(datum.ul)"}],"mark":{"type":"point","shape":"M0,0L0,2M-0.45,1.3L0,2L0.45,1.3","color":"red","size":290,"strokeWidth":1.5},"encoding":{"y":{"field":"ul","type":"quantitative","title":"Polarization[%]","scale":{"domain":[-0.5,16],"nice":false,"zero":false}}}}]}],
"resolve":{"scale":{"y":"independent"}}},
{"title":"J215614-003704","width":132,"height":99,"transform":[{"filter":"datum.s=='J215614-003704'"}],
"encoding":{"x":{"field":"f","type":"quantitative","scale":{"type":"log","domain":[3.23,42],"nice":false},"axis":{"values":[4,5,6,7,8,9,10,20,30,40],"labelExpr":"datum.value==10?'10':''","title":"Obs. frequency [GHz]"}}},
"layer":[
{"encoding":{"y":{"field":"flux","type":"quantitative","scale":{"domain":[180,462],"nice":false,"zero":false},"axis":{"values":[200,250,300,350,400,450],"title":"Flux [mJy]","orient":"left"}}},"layer":[{"mark":{"type":"line","color":"black","strokeWidth":1.5}},{"mark":{"type":"circle","color":"black","size":105,"opacity":1}}]},
{"encoding":{"y":{"field":"pol","type":"quantitative","scale":{"domain":[-0.5,16],"nice":false,"zero":false},"axis":{"values":[0,5,10,15],"title":"Polarization[%]","orient":"right"}}},"layer":[
{"transform":[{"filter":"isValid(datum.pol)"}],"mark":{"type":"line","color":"red","strokeWidth":1.5}},
{"transform":[{"filter":"isValid(datum.lo)"}],"mark":{"type":"errorbar","ticks":{"size":8},"color":"black","thickness":1.5},"encoding":{"y":{"field":"lo","type":"quantitative","title":"Polarization[%]","scale":{"domain":[-0.5,16],"nice":false,"zero":false}},"y2":{"field":"hi"}}},
{"transform":[{"filter":"isValid(datum.pol)"}],"mark":{"type":"point","shape":"M-1,-1L1,1M-1,1L1,-1M-1,0L1,0","color":"red","size":64,"strokeWidth":1.5}},
{"transform":[{"filter":"isValid(datum.ul)"}],"mark":{"type":"point","shape":"M0,0L0,2M-0.45,1.3L0,2L0.45,1.3","color":"red","size":290,"strokeWidth":1.5},"encoding":{"y":{"field":"ul","type":"quantitative","title":"Polarization[%]","scale":{"domain":[-0.5,16],"nice":false,"zero":false}}}}]}],
"resolve":{"scale":{"y":"independent"}}},
{"title":"J230107-015804","width":132,"height":99,"transform":[{"filter":"datum.s=='J230107-015804'"}],
"encoding":{"x":{"field":"f","type":"quantitative","scale":{"type":"log","domain":[3.23,42],"nice":false},"axis":{"values":[4,5,6,7,8,9,10,20,30,40],"labelExpr":"datum.value==10?'10':''","title":"Obs. frequency [GHz]"}}},
"layer":[
{"encoding":{"y":{"field":"flux","type":"quantitative","scale":{"domain":[380,1300],"nice":false,"zero":false},"axis":{"values":[400,600,800,1000,1200],"title":"Flux [mJy]","orient":"left"}}},"layer":[{"mark":{"type":"line","color":"black","strokeWidth":1.5}},{"mark":{"type":"circle","color":"black","size":105,"opacity":1}}]},
{"encoding":{"y":{"field":"pol","type":"quantitative","scale":{"domain":[-0.5,16],"nice":false,"zero":false},"axis":{"values":[0,5,10,15],"title":"Polarization[%]","orient":"right"}}},"layer":[
{"transform":[{"filter":"isValid(datum.pol)"}],"mark":{"type":"line","color":"red","strokeWidth":1.5}},
{"transform":[{"filter":"isValid(datum.lo)"}],"mark":{"type":"errorbar","ticks":{"size":8},"color":"black","thickness":1.5},"encoding":{"y":{"field":"lo","type":"quantitative","title":"Polarization[%]","scale":{"domain":[-0.5,16],"nice":false,"zero":false}},"y2":{"field":"hi"}}},
{"transform":[{"filter":"isValid(datum.pol)"}],"mark":{"type":"point","shape":"M-1,-1L1,1M-1,1L1,-1M-1,0L1,0","color":"red","size":64,"strokeWidth":1.5}},
{"transform":[{"filter":"isValid(datum.ul)"}],"mark":{"type":"point","shape":"M0,0L0,2M-0.45,1.3L0,2L0.45,1.3","color":"red","size":290,"strokeWidth":1.5},"encoding":{"y":{"field":"ul","type":"quantitative","title":"Polarization[%]","scale":{"domain":[-0.5,16],"nice":false,"zero":false}}}}]}],
"resolve":{"scale":{"y":"independent"}}},
{"title":"J231136-020907","width":132,"height":99,"transform":[{"filter":"datum.s=='J231136-020907'"}],
"encoding":{"x":{"field":"f","type":"quantitative","scale":{"type":"log","domain":[3.23,42],"nice":false},"axis":{"values":[4,5,6,7,8,9,10,20,30,40],"labelExpr":"datum.value==10?'10':''","title":"Obs. frequency [GHz]"}}},
"layer":[
{"encoding":{"y":{"field":"flux","type":"quantitative","scale":{"domain":[37,73.4],"nice":false,"zero":false},"axis":{"values":[40,50,60,70],"title":"Flux [mJy]","orient":"left"}}},"layer":[{"mark":{"type":"line","color":"black","strokeWidth":1.5}},{"mark":{"type":"circle","color":"black","size":105,"opacity":1}}]},
{"encoding":{"y":{"field":"pol","type":"quantitative","scale":{"domain":[-0.5,16],"nice":false,"zero":false},"axis":{"values":[0,5,10,15],"title":"Polarization[%]","orient":"right"}}},"layer":[
{"transform":[{"filter":"isValid(datum.pol)"}],"mark":{"type":"line","color":"red","strokeWidth":1.5}},
{"transform":[{"filter":"isValid(datum.lo)"}],"mark":{"type":"errorbar","ticks":{"size":8},"color":"black","thickness":1.5},"encoding":{"y":{"field":"lo","type":"quantitative","title":"Polarization[%]","scale":{"domain":[-0.5,16],"nice":false,"zero":false}},"y2":{"field":"hi"}}},
{"transform":[{"filter":"isValid(datum.pol)"}],"mark":{"type":"point","shape":"M-1,-1L1,1M-1,1L1,-1M-1,0L1,0","color":"red","size":64,"strokeWidth":1.5}},
{"transform":[{"filter":"isValid(datum.ul)"}],"mark":{"type":"point","shape":"M0,0L0,2M-0.45,1.3L0,2L0.45,1.3","color":"red","size":290,"strokeWidth":1.5},"encoding":{"y":{"field":"ul","type":"quantitative","title":"Polarization[%]","scale":{"domain":[-0.5,16],"nice":false,"zero":false}}}}]}],
"resolve":{"scale":{"y":"independent"}}},
{"title":"J232304-015048","width":132,"height":99,"transform":[{"filter":"datum.s=='J232304-015048'"}],
"encoding":{"x":{"field":"f","type":"quantitative","scale":{"type":"log","domain":[3.23,42],"nice":false},"axis":{"values":[4,5,6,7,8,9,10,20,30,40],"labelExpr":"datum.value==10?'10':''","title":"Obs. frequency [GHz]"}}},
"layer":[
{"encoding":{"y":{"field":"flux","type":"quantitative","scale":{"domain":[102,268],"nice":false,"zero":false},"axis":{"values":[150,200,250],"title":"Flux [mJy]","orient":"left"}}},"layer":[{"mark":{"type":"line","color":"black","strokeWidth":1.5}},{"mark":{"type":"circle","color":"black","size":105,"opacity":1}}]},
{"encoding":{"y":{"field":"pol","type":"quantitative","scale":{"domain":[-0.5,16],"nice":false,"zero":false},"axis":{"values":[0,5,10,15],"title":"Polarization[%]","orient":"right"}}},"layer":[
{"transform":[{"filter":"isValid(datum.pol)"}],"mark":{"type":"line","color":"red","strokeWidth":1.5}},
{"transform":[{"filter":"isValid(datum.lo)"}],"mark":{"type":"errorbar","ticks":{"size":8},"color":"black","thickness":1.5},"encoding":{"y":{"field":"lo","type":"quantitative","title":"Polarization[%]","scale":{"domain":[-0.5,16],"nice":false,"zero":false}},"y2":{"field":"hi"}}},
{"transform":[{"filter":"isValid(datum.pol)"}],"mark":{"type":"point","shape":"M-1,-1L1,1M-1,1L1,-1M-1,0L1,0","color":"red","size":64,"strokeWidth":1.5}},
{"transform":[{"filter":"isValid(datum.ul)"}],"mark":{"type":"point","shape":"M0,0L0,2M-0.45,1.3L0,2L0.45,1.3","color":"red","size":290,"strokeWidth":1.5},"encoding":{"y":{"field":"ul","type":"quantitative","title":"Polarization[%]","scale":{"domain":[-0.5,16],"nice":false,"zero":false}}}}]}],
"resolve":{"scale":{"y":"independent"}}},
{"title":"J232659-002352","width":132,"height":99,"transform":[{"filter":"datum.s=='J232659-002352'"}],
"encoding":{"x":{"field":"f","type":"quantitative","scale":{"type":"log","domain":[3.23,42],"nice":false},"axis":{"values":[4,5,6,7,8,9,10,20,30,40],"labelExpr":"datum.value==10?'10':''","title":"Obs. frequency [GHz]"}}},
"layer":[
{"encoding":{"y":{"field":"flux","type":"quantitative","scale":{"domain":[54,129],"nice":false,"zero":false},"axis":{"values":[60,80,100,120],"title":"Flux [mJy]","orient":"left"}}},"layer":[{"mark":{"type":"line","color":"black","strokeWidth":1.5}},{"mark":{"type":"circle","color":"black","size":105,"opacity":1}}]},
{"encoding":{"y":{"field":"pol","type":"quantitative","scale":{"domain":[-0.5,16],"nice":false,"zero":false},"axis":{"values":[0,5,10,15],"title":"Polarization[%]","orient":"right"}}},"layer":[
{"transform":[{"filter":"isValid(datum.pol)"}],"mark":{"type":"line","color":"red","strokeWidth":1.5}},
{"transform":[{"filter":"isValid(datum.lo)"}],"mark":{"type":"errorbar","ticks":{"size":8},"color":"black","thickness":1.5},"encoding":{"y":{"field":"lo","type":"quantitative","title":"Polarization[%]","scale":{"domain":[-0.5,16],"nice":false,"zero":false}},"y2":{"field":"hi"}}},
{"transform":[{"filter":"isValid(datum.pol)"}],"mark":{"type":"point","shape":"M-1,-1L1,1M-1,1L1,-1M-1,0L1,0","color":"red","size":64,"strokeWidth":1.5}},
{"transform":[{"filter":"isValid(datum.ul)"}],"mark":{"type":"point","shape":"M0,0L0,2M-0.45,1.3L0,2L0.45,1.3","color":"red","size":290,"strokeWidth":1.5},"encoding":{"y":{"field":"ul","type":"quantitative","title":"Polarization[%]","scale":{"domain":[-0.5,16],"nice":false,"zero":false}}}}]}],
"resolve":{"scale":{"y":"independent"}}}
]}
],
"config":{
"font":"Liberation Serif",
"view":{"stroke":"black","strokeWidth":2},
"axis":{"grid":false,"domain":false,"format":"d","labelFont":"Liberation Serif","labelFontSize":12,"labelColor":"black","titleFont":"Liberation Serif","titleFontSize":13,"titleFontWeight":"normal","titleColor":"black","tickColor":"black","tickSize":-4,"labelPadding":7,"titlePadding":3},
"axisX":{"labelPadding":11,"titlePadding":2,"tickSize":-3},
"axisLeft":{"titlePadding":6},
"axisRight":{"titleColor":"red","titlePadding":1},
"title":{"font":"Liberation Serif","fontSize":14,"fontWeight":"normal","anchor":"start","frame":"group","dx":33,"offset":-26,"baseline":"alphabetic","color":"black"}
}
}
